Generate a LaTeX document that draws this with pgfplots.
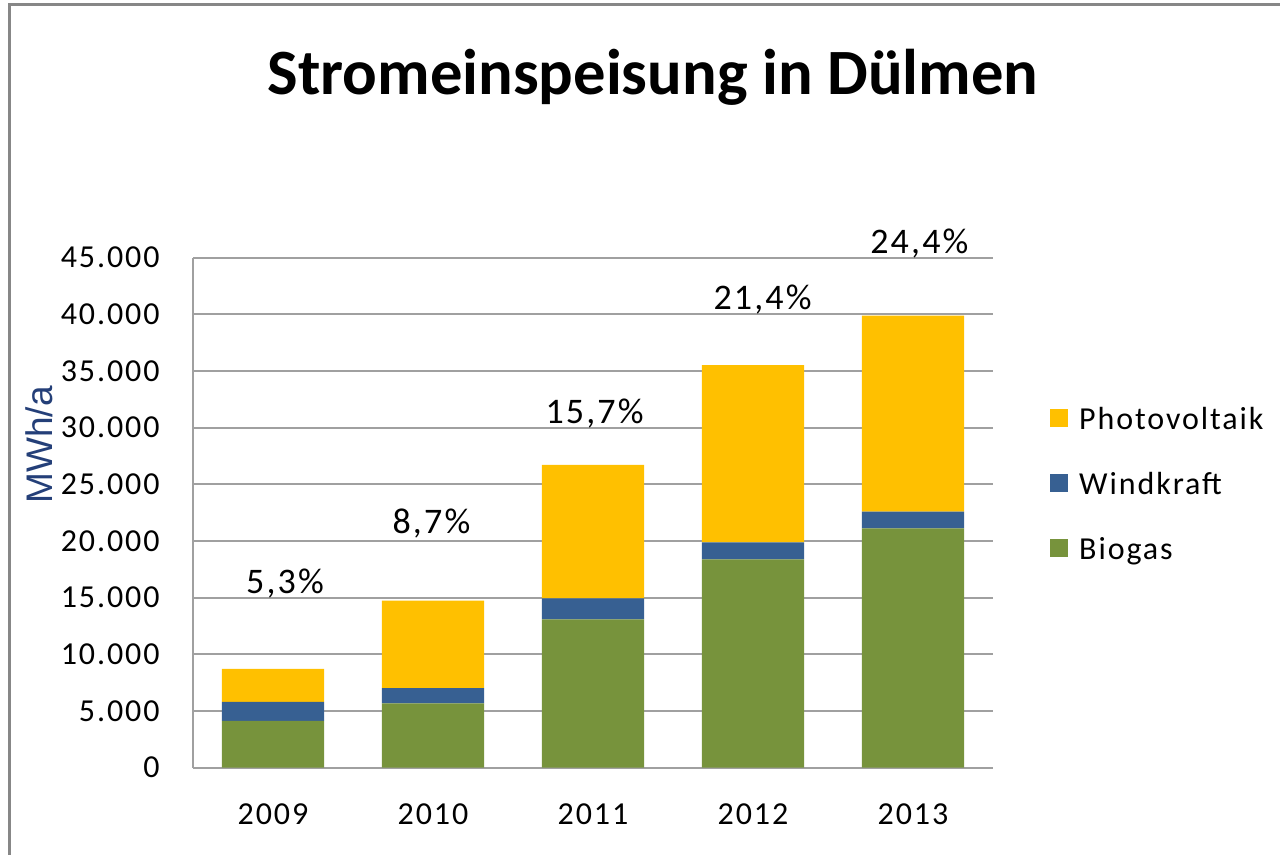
\documentclass[border=0pt]{standalone}
\usepackage{pgfplots}
\usepackage{pgfplotstable}
\pgfplotsset{compat=1.18}
\usepackage{fontspec}
\setmainfont{Carlito}
\newfontfamily\tickfont[LetterSpace=6]{Carlito}
\newfontfamily\labelfont{Liberation Sans}

\definecolor{biogas}{HTML}{77933C}
\definecolor{wind}{HTML}{376092}
\definecolor{pv}{HTML}{FFC000}
\definecolor{gridgray}{HTML}{A0A0A0}
\definecolor{framegray}{HTML}{878787}
\definecolor{ylab}{HTML}{243F78}

% MWh/a per year, 0 = 2009 ... 4 = 2013
\pgfplotstableread{
year  biogas  wind  pv
0  4120    1680  2910
1  5680    1350  7710
2  13090   1860  11760
3  18390   1500  15620
4  21120   1470  17290
}\stromdata

\tikzset{pct/.style={font=\tickfont\fontsize{18}{21}\selectfont}}

\begin{document}
\begin{tikzpicture}[x=0.5pt,y=0.5pt]
\useasboundingbox (0,0) rectangle (1280,855);
\draw[framegray, line width=1.5pt] (9.5,0) -- (9.5,850.5) -- (1280,850.5);
\node[font=\fontsize{32.3}{39}\selectfont\bfseries] at (653,778) {Stromeinspeisung in Dülmen};
\node[rotate=90, font=\labelfont\fontsize{18.5}{22}\selectfont, text=ylab] at (39,410) {MWh/a};
\begin{axis}[
    at={(96.5pt,43.65pt)}, anchor=south west,
    scale only axis, width=400pt, height=255pt,
    ybar stacked, bar width=0.64,
    xmin=-0.5, xmax=4.5, ymin=0, ymax=45000,
    clip=false,
    scaled y ticks=false,
    xtick={0,1,2,3,4}, xticklabels={2009,2010,2011,2012,2013},
    ytick={0,5000,10000,15000,20000,25000,30000,35000,40000,45000},
    yticklabels={0,5.000,10.000,15.000,20.000,25.000,30.000,35.000,40.000,45.000},
    major tick length=0pt,
    axis x line*=bottom, axis y line*=left,
    axis line style={gridgray, line width=0.9pt},
    ymajorgrids, grid style={gridgray, line width=0.9pt},
    ticklabel style={font=\tickfont\fontsize{16}{19}\selectfont, inner sep=0pt},
    yticklabel style={anchor=east, xshift=-16.5pt},
    xticklabel style={anchor=center, yshift=-23.5pt},
    reverse legend,
    legend cell align=left,
    legend style={at={(1.071,0.715)}, anchor=north west, draw=none, fill=none,
        inner sep=0pt, row sep=16pt,
        font=\tickfont\fontsize{16}{19}\selectfont,
        /tikz/every odd column/.append style={column sep=3.5pt}},
    legend image code/.code={\fill[#1] (0pt,-3.5pt) rectangle (9pt,5.5pt);},
]
\addplot[fill=biogas, draw=none] table[x=year, y=biogas] {\stromdata};
\addplot[fill=wind, draw=none] table[x=year, y=wind] {\stromdata};
\addplot[fill=pv, draw=none] table[x=year, y=pv] {\stromdata};
\legend{Biogas, Windkraft, Photovoltaik}
\node[pct] at (axis cs:0.075,16220) {5,3\%};
\node[pct] at (axis cs:0.99,21550) {8,7\%};
\node[pct] at (axis cs:2.01,31250) {15,7\%};
\node[pct] at (axis cs:3.06,41350) {21,4\%};
\node[pct] at (axis cs:4.04,46250) {24,4\%};
\end{axis}
\end{tikzpicture}
\end{document}
